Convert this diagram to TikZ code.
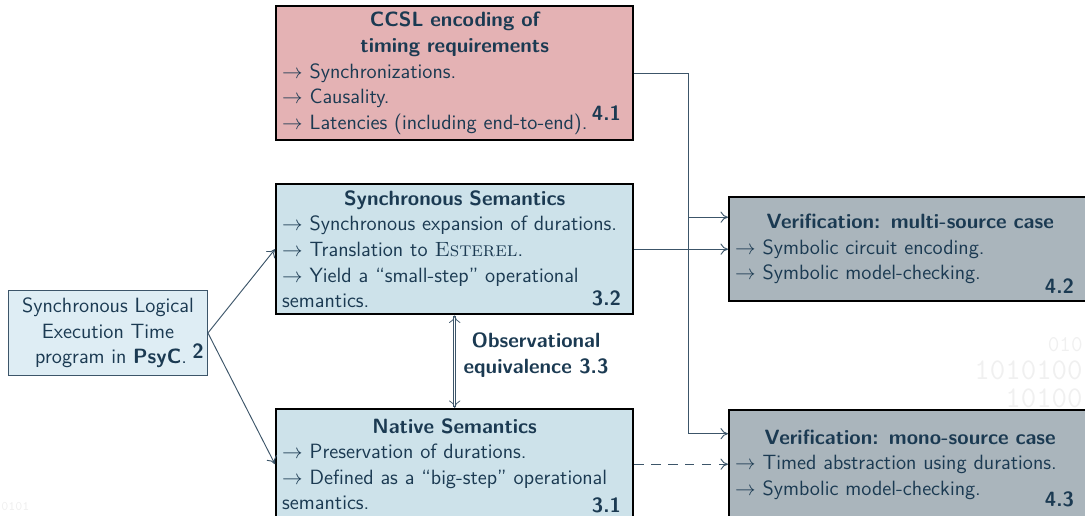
\documentclass[tikz,border=0pt]{standalone}
\usetikzlibrary{arrows.meta,positioning,calc}
\definecolor{ink}{HTML}{1B3A52}
\definecolor{wire}{HTML}{3C5569}
\definecolor{ccslfill}{HTML}{E4B2B4}
\definecolor{semfill}{HTML}{CDE2EA}
\definecolor{progfill}{HTML}{DEEDF4}
\definecolor{veriffill}{HTML}{AAB5BC}
\newlength\px
\setlength\px{0.533pt}
\newcommand\itm{$\to$\ }
\tikzset{
    box/.style = {
        draw = black,
        line width = 1.3pt,
        text = ink,
        anchor = north west,
        inner xsep = 6\px,
        inner ysep = 2\px,
        font = \sffamily\fontsize{11}{13.6}\selectfont,
        },
    sem box/.style = {
        box,
        fill = semfill,
        minimum width = 357\px,
        text width = 345\px,
        },
    verif box/.style = {
        box,
        fill = veriffill,
        minimum width = 362\px,
        text width = 350\px,
        },
    prog box/.style = {
        draw = wire,
        line width = 0.5pt,
        fill = progfill,
        text = ink,
        anchor = north west,
        align = center,
        minimum width = 199\px,
        minimum height = 85\px,
        font = \sffamily\fontsize{11}{13.6}\selectfont,
        },
    num/.style = {
        text = ink,
        inner sep = 0pt,
        font = \sffamily\bfseries\fontsize{11}{13.6}\selectfont,
        },
    wire/.style = {
        draw = wire,
        line width = 0.5pt,
        },
    noise/.style = {
        text = black!6,
        inner sep = 0pt,
        font = \ttfamily\fontsize{16}{15}\selectfont,
        },
}
\begin{document}
\begin{tikzpicture}[x=\px, y=-\px, >={To[length=4pt,width=6pt]}]
    \useasboundingbox (0,0) rectangle (1085,516);
    \clip (0,0) rectangle (1085,516);

    % faint background digits
    \node[noise, anchor=north east, align=right] (digits) at (1083,337)
        {{\fontsize{12}{12}\selectfont 010}\\ 1010100\\ 10100};
    \node[noise, anchor=west, font=\ttfamily\fontsize{7}{7}\selectfont] (bits) at (1,506) {0101};

    \node[box, fill=ccslfill, minimum width=357\px, minimum height=134\px, text width=345\px] (ccsl) at (275,5)
        {\centering\bfseries CCSL encoding of\\ timing requirements\par
         \raggedright\mdseries
         \itm Synchronizations.\\
         \itm Causality.\\
         \itm Latencies (including end-to-end).};
    \node[sem box, minimum height=130\px] (sync) at (275,183)
        {\centering\bfseries Synchronous Semantics\par
         \raggedright\mdseries
         \itm Synchronous expansion of durations.\\
         \itm Translation to \textrm{\textsc{Esterel}}.\\
         \itm Yield a ``small-step'' operational\\
         semantics.};
    \node[sem box, minimum height=110\px] (native) at (275,408)
        {\centering\bfseries Native Semantics\par
         \raggedright\mdseries
         \itm Preservation of durations.\\
         \itm Defined as a ``big-step'' operational\\
         semantics.};
    \node[prog box] (prog) at (8,290)
        {Synchronous Logical\\ Execution Time\\ \hspace*{0.3em}program in \textbf{PsyC}.};
    \node[verif box, minimum height=104\px] (multi) at (728,196)
        {\centering\bfseries Verification: multi-source case\par
         \raggedright\mdseries
         \itm Symbolic circuit encoding.\\
         \itm Symbolic model-checking.};
    \node[verif box, minimum height=109\px] (mono) at (728,409)
        {\centering\bfseries Verification: mono-source case\par
         \raggedright\mdseries
         \itm Timed abstraction using durations.\\
         \itm Symbolic model-checking.};

    % section numbers
    \node[num] (n41) at ([xshift=-28\px, yshift=28\px]ccsl.south east) {4.1};
    \node[num] (n32) at ([xshift=-28\px, yshift=17\px]sync.south east) {3.2};
    \node[num] (n31) at ([xshift=-28\px, yshift=15\px]native.south east) {3.1};
    \node[num] (n42) at ([xshift=-33\px, yshift=16\px]multi.south east) {4.2};
    \node[num] (n43) at ([xshift=-33\px, yshift=21\px]mono.south east) {4.3};
    \node[num] (n2) at ([xshift=-10\px, yshift=25\px]prog.south east) {2};
    \node[num, align=center] (obs) at (536,355) {Observational\\ equivalence 3.3};

    \coordinate (fork) at ($(ccsl.east)+(54,0)$);

    \draw[wire, ->] (prog.east) -- (sync.west);
    \draw[wire, ->] (prog.east) -- (native.west);
    \draw[wire, <->, double=white, double distance=0.6pt, line width=0.4pt] (sync.south) -- (native.north);
    \draw[wire] (ccsl.east) -- (fork);
    \draw[wire, ->] (fork) |- ([yshift=32\px]multi.west);
    \draw[wire, ->] (fork) |- ([yshift=31\px]mono.west);
    \draw[wire, ->] (sync.east) -- (sync.east -| multi.west);
    \draw[wire, ->, dash pattern=on 5pt off 4pt] (native.east) -- (native.east -| mono.west);
\end{tikzpicture}
\end{document}
